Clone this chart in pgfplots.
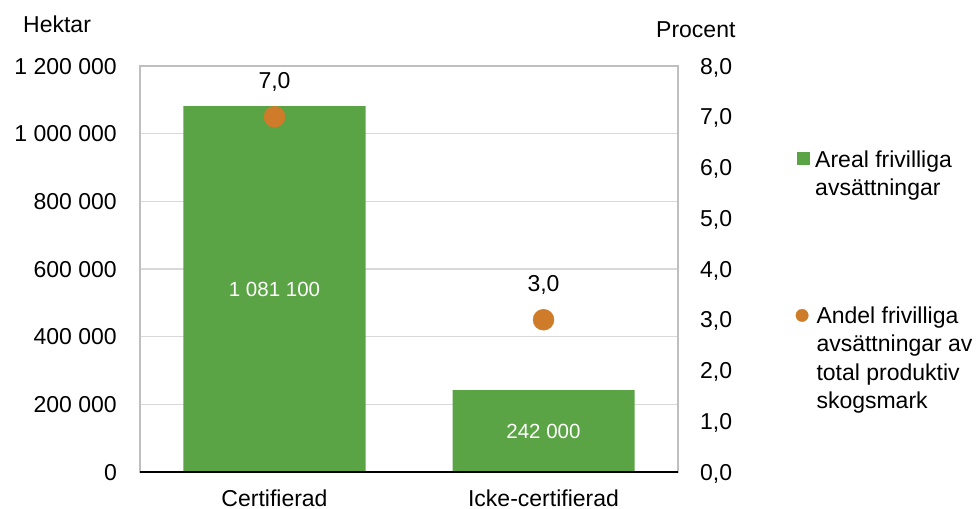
\documentclass[border=0pt]{standalone}
\usepackage{fontspec}
\setmainfont{Liberation Sans}
\usepackage{pgfplots}
\pgfplotsset{compat=1.18}

\definecolor{barGreen}{RGB}{91,164,69}
\definecolor{dotOrange}{RGB}{207,124,42}
\definecolor{frameGray}{RGB}{191,191,191}
\definecolor{gridGray}{RGB}{217,217,217}

\pgfplotsset{
  chartbase/.style={
    at={(140bp,37bp)}, anchor=south west,
    scale only axis, width=538bp, height=406bp,
    xmin=-0.5, xmax=1.5,
    /pgf/number format/assume math mode=true,
    major tick length=0pt,
    tick style={draw=none},
  },
}

\begin{document}
\begin{tikzpicture}
\fontsize{23bp}{28.5bp}\selectfont
\useasboundingbox (0,0) rectangle (979bp,509bp);

% left axis: area in hectares
\begin{axis}[chartbase,
  ymin=0, ymax=1200000,
  ytick={0,200000,400000,600000,800000,1000000,1200000},
  scaled y ticks=false,
  yticklabel style={anchor=east, inner sep=0pt, xshift=-23bp, text depth=0pt,
    /pgf/number format/.cd, fixed, precision=0, 1000 sep={\ }},
  xtick={0,1},
  xticklabels={Certifierad, Icke-certifierad},
  xticklabel style={anchor=base, inner sep=0pt, yshift=-34.5bp},
  axis line style={draw=frameGray, line width=1.3bp},
  ymajorgrids,
  grid style={draw=gridGray, line width=1.1bp},
  ylabel={Hektar},
  every axis y label/.style={at={(axis description cs:-0.2175,1.0813)},
    anchor=base west, inner sep=0pt},
  legend style={at={(axis description cs:1.2212,0.7931)}, anchor=north west,
    draw=none, fill=none, inner sep=0pt, /tikz/column sep=5bp,
    nodes={inner sep=0pt, align=left}, cells={anchor=north west}},
  after end axis/.code={
    \draw[black, line width=1.6bp] (rel axis cs:0,0) -- (rel axis cs:1,0);
  },
]
\addplot[ybar, bar width=182bp, fill=barGreen, draw=none,
  legend image code/.code={
    \path (0,0);
    \fill[barGreen] (0,-2bp) rectangle (13bp,-15bp);
  },
  nodes near coords={\pgfmathprintnumber[fixed, precision=0, 1000 sep={\ }]{\pgfplotspointmeta}},
  visualization depends on=rawy \as \rawy,
  every node near coord/.append style={anchor=center, inner sep=0pt,
    text=white, font=\fontsize{20.5bp}{24bp}\selectfont, text depth=0pt,
    shift={(axis direction cs:0,-\rawy/2)}},
] coordinates {(0,1081100) (1,242000)};
\addlegendentry{Areal frivilliga\\avsättningar}
\end{axis}

% right axis: share in percent
\begin{axis}[chartbase,
  ymin=0, ymax=8,
  ytick={0,1,2,3,4,5,6,7,8},
  axis y line*=right,
  hide x axis,
  y axis line style={draw=none},
  yticklabel style={anchor=west, inner sep=0pt, xshift=22bp, text depth=0pt,
    /pgf/number format/.cd, fixed, fixed zerofill, precision=1, use comma},
  ylabel={Procent},
  every axis y label/.style={at={(axis description cs:0.9591,1.0707)},
    anchor=base west, inner sep=0pt},
  legend style={at={(axis description cs:1.2184,0.4089)}, anchor=north west,
    draw=none, fill=none, inner sep=0pt, /tikz/column sep=8bp,
    nodes={inner sep=0pt, align=left}, cells={anchor=north west}},
]
\addplot[only marks, mark=*, mark size=10.5bp, color=dotOrange,
  legend image code/.code={
    \path (0,0);
    \fill[dotOrange] (6.2bp,-9bp) circle (6.2bp);
  },
  nodes near coords,
  nodes near coords style={text=black, anchor=base, inner sep=0pt, yshift=28.5bp,
    /pgf/number format/.cd, fixed, fixed zerofill, precision=1, use comma},
] coordinates {(0,7.0) (1,3.0)};
\addlegendentry{Andel frivilliga\\avsättningar av\\total produktiv\\skogsmark}
\end{axis}
\end{tikzpicture}
\end{document}
